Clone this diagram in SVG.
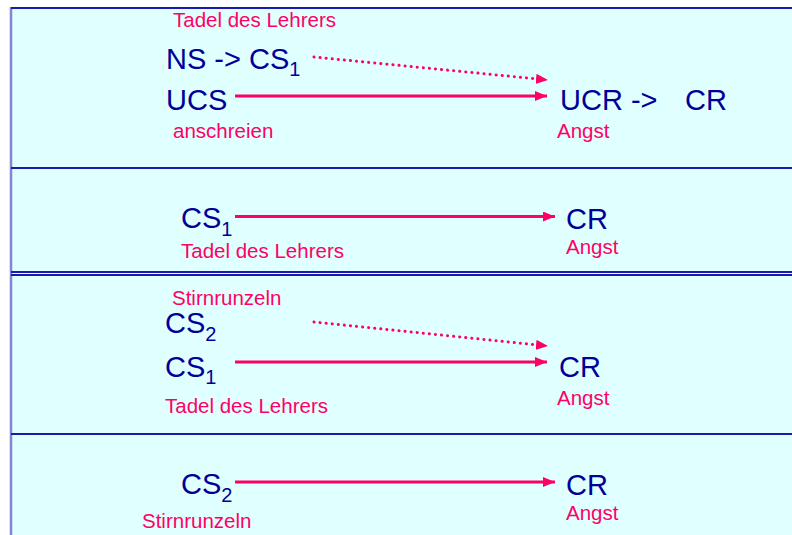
<svg xmlns="http://www.w3.org/2000/svg" width="792" height="535" viewBox="0 0 792 535">
  <style>
    .panel { fill: #E0FFFF; }
    .rule { stroke: #1A1AB0; stroke-width: 2; }
    .edge { stroke: #8484D4; stroke-width: 2.5; }
    .term { font-family: "Liberation Sans", Arial, sans-serif; font-size: 29px; fill: #000099; }
    .sub { font-size: 20px; }
    .note { font-family: "Liberation Sans", Arial, sans-serif; font-size: 20.5px; fill: #FF0066; }
    .link { stroke: #FF0066; stroke-width: 3; fill: none; }
    .dotted { stroke-width: 3; stroke-dasharray: 0.1 6; stroke-linecap: round; }
  </style>
  <defs>
    <marker id="head" viewBox="0 0 12 10" refX="12" refY="5" markerWidth="12" markerHeight="10" markerUnits="userSpaceOnUse" orient="auto">
      <path d="M0,0 L12,5 L0,10 Z" fill="#FF0066"/>
    </marker>
  </defs>

  <rect width="792" height="535" fill="#FFFFFF"/>

  <!-- four stacked panels -->
  <g id="panels">
    <rect class="panel" x="11" y="8" width="781" height="160"/>
    <rect class="panel" x="11" y="168" width="781" height="105"/>
    <rect class="panel" x="11" y="273" width="781" height="161"/>
    <rect class="panel" x="11" y="434" width="781" height="101"/>
    <line class="edge" x1="11" y1="7" x2="11" y2="535"/>
    <line class="rule" x1="11" y1="8" x2="792" y2="8"/>
    <line class="rule" x1="11" y1="168" x2="792" y2="168"/>
    <line class="rule" x1="11" y1="272" x2="792" y2="272"/>
    <line class="rule" x1="11" y1="275" x2="792" y2="275"/>
    <line class="rule" x1="11" y1="434" x2="792" y2="434"/>
  </g>

  <!-- connectors -->
  <g id="connectors">
    <line class="link dotted" x1="314" y1="57" x2="538" y2="79" />
    <line class="link" x1="235" y1="96" x2="547" y2="96" marker-end="url(#head)"/>
    <line class="link" x1="235" y1="216.5" x2="555" y2="216.5" marker-end="url(#head)"/>
    <line class="link dotted" x1="314" y1="322" x2="538" y2="345" />
    <line class="link" x1="235" y1="362" x2="547" y2="362" marker-end="url(#head)"/>
    <line class="link" x1="235" y1="482" x2="555" y2="482" marker-end="url(#head)"/>
    <!-- heads of the dotted links -->
    <line x1="537" y1="78.9" x2="548" y2="80" stroke="none" marker-end="url(#head)"/>
    <line x1="537" y1="344.9" x2="548" y2="346" stroke="none" marker-end="url(#head)"/>
  </g>

  <!-- panel 1: NS paired with UCS -->
  <g id="p1-ns">
    <text class="note" x="173" y="27">Tadel des Lehrers</text>
    <text class="term" x="166" y="69">NS -&gt; CS<tspan class="sub" dy="7">1</tspan></text>
  </g>
  <g id="p1-ucs">
    <text class="term" x="166" y="110">UCS</text>
    <text class="note" x="173" y="138">anschreien</text>
  </g>
  <g id="p1-ucr">
    <text class="term" x="560" y="110" xml:space="preserve">UCR -&gt;  <tspan x="685">CR</tspan></text>
    <text class="note" x="557" y="138">Angst</text>
  </g>

  <!-- panel 2: CS1 alone -->
  <g id="p2-cs1">
    <text class="term" x="181" y="228">CS<tspan class="sub" dy="8">1</tspan></text>
    <text class="note" x="181" y="258">Tadel des Lehrers</text>
  </g>
  <g id="p2-cr">
    <text class="term" x="566" y="229">CR</text>
    <text class="note" x="566" y="254">Angst</text>
  </g>

  <!-- panel 3: CS2 paired with CS1 -->
  <g id="p3-cs2">
    <text class="note" x="172" y="305">Stirnrunzeln</text>
    <text class="term" x="165" y="333">CS<tspan class="sub" dy="8">2</tspan></text>
  </g>
  <g id="p3-cs1">
    <text class="term" x="165" y="377">CS<tspan class="sub" dy="7">1</tspan></text>
    <text class="note" x="165" y="413">Tadel des Lehrers</text>
  </g>
  <g id="p3-cr">
    <text class="term" x="559" y="377">CR</text>
    <text class="note" x="557" y="405">Angst</text>
  </g>

  <!-- panel 4: CS2 alone -->
  <g id="p4-cs2">
    <text class="term" x="181" y="494">CS<tspan class="sub" dy="8">2</tspan></text>
    <text class="note" x="142" y="528">Stirnrunzeln</text>
  </g>
  <g id="p4-cr">
    <text class="term" x="566" y="495">CR</text>
    <text class="note" x="566" y="520">Angst</text>
  </g>
</svg>
